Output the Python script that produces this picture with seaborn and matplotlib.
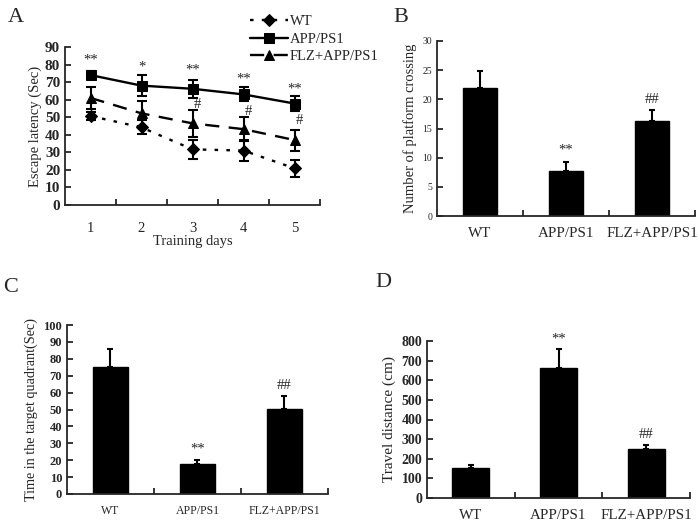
import numpy as np
import pandas as pd
import matplotlib
matplotlib.use("Agg")
import matplotlib.pyplot as plt
import seaborn as sns

# Panel A - escape latency (mean, error) per training day
days = ["1", "2", "3", "4", "5"]
wt_mean = [50.7, 44.2, 31.7, 31.0, 20.9]
wt_err = [2.5, 4.0, 5.5, 6.0, 5.0]
app_mean = [74.0, 68.0, 66.2, 63.0, 57.8]
app_err = [2.5, 5.8, 5.0, 4.0, 4.5]
flz_mean = [61.0, 52.2, 46.5, 43.2, 37.0]
flz_err = [6.5, 7.2, 7.6, 6.8, 6.0]
app_stars = ["**", "*", "**", "**", "**"]
app_star_y = [82.5, 78.5, 77.0, 72.0, 66.0]
flz_hash_y = [None, None, 57.5, 53.0, 48.0]

groups = ["WT", "APP/PS1", "FLZ+APP/PS1"]
# Panel B - platform crossings
cross_mean = [22.0, 7.7, 16.3]
cross_err = [2.8, 1.6, 1.8]
# Panel C - time in target quadrant
quad_mean = [75.3, 17.7, 50.2]
quad_err = [10.6, 2.4, 7.5]
# Panel D - travel distance
dist_mean = [155, 663, 248]
dist_err = [12, 95, 22]
bar_marks = ["", "**", "##"]

sns.set_style("ticks")
plt.rcParams["font.family"] = ["Liberation Serif", "DejaVu Serif"]
plt.rcParams["axes.linewidth"] = 1.3
plt.rcParams["xtick.direction"] = "in"
plt.rcParams["ytick.direction"] = "in"

fig = plt.figure(figsize=(6.98, 5.21), dpi=100)
W, H = 698, 521


def add_ax(left, top, right, bottom):
    return fig.add_axes([left / W, 1 - bottom / H, (right - left) / W, (bottom - top) / H])


def style_cat_axis(ax, n, labelsize, pad=8):
    ax.set_xlim(-0.5, n - 0.5)
    ax.set_xticks(range(n))
    ax.tick_params(axis="x", which="major", length=0, labelsize=labelsize, pad=pad)
    ax.set_xticks([i + 0.5 for i in range(n)], minor=True)
    ax.tick_params(axis="x", which="minor", length=4, width=1.3)
    ax.tick_params(axis="y", length=4, width=1.3)
    sns.despine(ax=ax)


# ---- Panel A ----
axA = add_ax(65, 47, 320, 205)
x = np.arange(len(days))
series = [
    ("WT", wt_mean, wt_err, "D", (1.5, 3.5), 6.5),
    ("APP/PS1", app_mean, app_err, "s", None, 7),
    ("FLZ+APP/PS1", flz_mean, flz_err, "^", (6, 4), 7.5),
]
for name, m, e, mk, dash, ms in series:
    kw = dict(dashes=dash) if dash else dict(linestyle="-")
    sns.lineplot(x=x, y=m, ax=axA, color="black", marker=mk, markersize=ms,
                 markeredgecolor="black", linewidth=1.7, label=name, **kw)
    axA.errorbar(x, m, yerr=e, fmt="none", ecolor="black", elinewidth=1.5,
                 capsize=3.5, capthick=1.5)
for i in range(len(days)):
    axA.text(x[i], app_star_y[i], app_stars[i], ha="center", va="center", fontsize=10.5)
    if flz_hash_y[i] is not None:
        axA.text(x[i] + 0.1, flz_hash_y[i], "#", ha="center", va="center", fontsize=10.5)
axA.set_ylim(0, 90)
axA.set_yticks(range(0, 91, 10))
style_cat_axis(axA, len(days), 10.5, pad=12)
axA.set_xticklabels(days)
for t in axA.get_yticklabels():
    t.set_fontweight("bold")
    t.set_fontsize(11)
axA.set_xlabel("Training days", fontsize=10.5, labelpad=0)
axA.set_ylabel("Escape latency (Sec)", fontsize=10.5, labelpad=2)
axA.legend(loc="upper left", bbox_to_anchor=(250 / W, 1 - 15 / H),
           bbox_transform=fig.transFigure, frameon=False, fontsize=10.5,
           handlelength=2.6, handletextpad=0.15, labelspacing=0.3,
           borderpad=0, borderaxespad=0)

# ---- Bar panels ----
bar_panels = [
    ((437, 41, 695, 216), cross_mean, cross_err, 30, 5, "Number of platform crossing",
     10.8, 7, "normal", 10.5, 0.4),
    ((67, 325, 328, 494), quad_mean, quad_err, 100, 10, "Time in the target quadrant(Sec)",
     8.5, 9, "bold", 10.2, 0.4),
    ((427, 341, 690, 498), dist_mean, dist_err, 800, 100, "Travel distance (cm)",
     10.8, 10, "bold", 11, 0.42),
]
for (box, m, e, ymax, step, ylab, xls, yls, yw, ylfs, bw) in bar_panels:
    ax = add_ax(*box)
    df = pd.DataFrame({"group": groups, "value": m})
    sns.barplot(data=df, x="group", y="value", color="black", width=bw,
                errorbar=None, ax=ax, saturation=1, edgecolor="black")
    ax.errorbar(range(3), m, yerr=[np.zeros(3), e], fmt="none", ecolor="black",
                elinewidth=1.5, capsize=2.5, capthick=1.5)
    for i, lab in enumerate(bar_marks):
        if lab:
            ax.text(i, m[i] + e[i] + ymax * 0.065, lab, ha="center", va="center",
                    fontsize=10.5)
    ax.set_ylim(0, ymax)
    ax.set_yticks(range(0, ymax + 1, step))
    style_cat_axis(ax, 3, xls)
    for t in ax.get_yticklabels():
        t.set_fontweight(yw)
        t.set_fontsize(yls)
    ax.set_xlabel("")
    ax.set_ylabel(ylab, fontsize=ylfs, labelpad=4)

# panel letters
for letter, lx, ly in [("A", 8, 22), ("B", 393, 22), ("C", 3, 292), ("D", 375, 287)]:
    fig.text(lx / W, 1 - ly / H, letter, fontsize=16, ha="left", va="baseline")

fig.savefig("out.png", dpi=100)
